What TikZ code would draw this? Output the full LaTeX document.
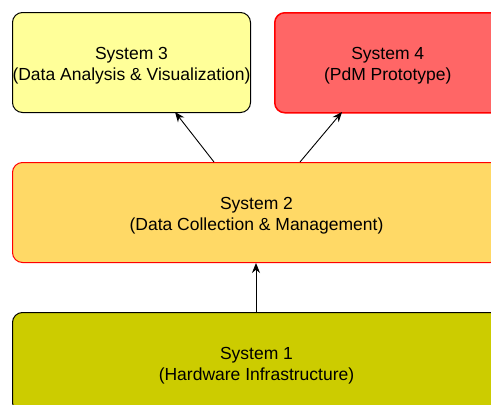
\documentclass[tikz,border=0pt]{standalone}
\usepackage{fontspec}
\setmainfont{Liberation Sans}
\usetikzlibrary{arrows.meta}
\definecolor{paleyellow}{HTML}{FFFF99}
\definecolor{salmonred}{HTML}{FF6666}
\definecolor{goldfill}{HTML}{FFD966}
\definecolor{olivefill}{HTML}{CCCC00}
% top strut that lowers the two-line labels slightly within their boxes
\newcommand{\toplift}{\rule{0pt}{18.5pt}}
\begin{document}
\begin{tikzpicture}[x=1pt,y=-1pt,
  sysbox/.style={rounded corners=10pt, line width=1pt, minimum width=#1, minimum height=100pt,
    align=center, inner sep=0pt, font=\fontsize{17.5}{21}\selectfont, anchor=north west},
  conn/.style={-{Stealth[length=10pt,width=8pt]}, line width=0.9pt}]
\useasboundingbox (0,0) rectangle (491,405);
\clip (0,0) rectangle (491,405);
\node[sysbox=238pt, draw=black, fill=paleyellow] (s3) at (12,12)
  {\toplift System 3\\(Data Analysis \& Visualization)};
\node[sysbox=226pt, draw=red, fill=salmonred, line width=1.5pt] (s4) at (274,12)
  {\toplift System 4\\(PdM Prototype)};
\node[sysbox=488pt, draw=red, fill=goldfill] (s2) at (12,162)
  {\toplift System 2\\(Data Collection \& Management)};
\node[sysbox=488pt, draw=black, fill=olivefill] (s1) at (12,312)
  {\toplift System 1\\(Hardware Infrastructure)};
\coordinate (s2a) at (214,162);
\coordinate (s3a) at (175,112);
\coordinate (s2b) at (300,162);
\coordinate (s4a) at (342,112);
\draw[conn] (s2a) -- (s3a);
\draw[conn] (s2b) -- (s4a);
\draw[conn] (s1.north -| 256,0) -- (s2.south -| 256,0);
\end{tikzpicture}
\end{document}
